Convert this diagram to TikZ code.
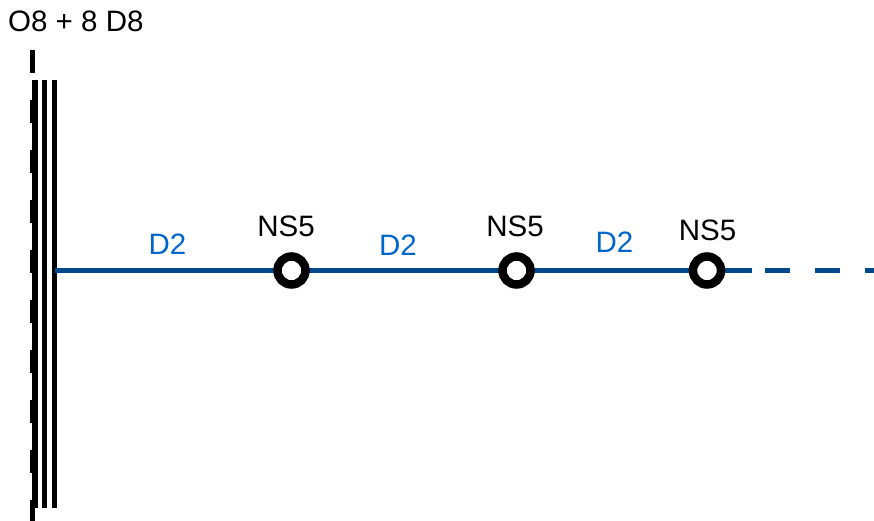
\documentclass[tikz,border=0pt]{standalone}
\usepackage{fontspec}
\setmainfont{Liberation Sans}
\definecolor{branebl}{RGB}{0,72,140}
\definecolor{labelbl}{RGB}{0,102,204}

\begin{document}
\begin{tikzpicture}[x=1pt,y=1pt]
        \tikzstyle{every node}=[inner sep=0pt, font=\fontsize{29.5}{34}\selectfont]
        \tikzstyle{stack}=[line width=5.5pt]
        \tikzstyle{brane}=[draw=branebl, line width=5pt]
        \tikzstyle{ns}=[circle, draw=black, fill=white, line width=8.5pt, minimum size=28pt]
        \tikzstyle{dlab}=[text=labelbl, anchor=base]
        \useasboundingbox (0,0) rectangle (874,521);
        % orientifold plane with the D8 stack
        \draw[stack, dash pattern=on 23pt off 27pt] (32.5,471) -- (32.5,0);
        \foreach \x in {35,44.5,54.5} \draw[stack] (\x,441) -- (\x,13);
        \node[anchor=base west] (o8) at (8,489) {O8 + 8 D8};
        % D2 branes ending on NS5
        \coordinate (stk) at (54.5,250.5);
        \coordinate (tail) at (752,250.5);
        \coordinate (far) at (874,250.5);
        \draw[brane] (stk) -- (707,250.5) -- (tail);
        \draw[brane, dash pattern=on 25pt off 25pt, dash phase=37pt] (tail) -- (far);
        \node[ns] (ns1) at (291.5,250.5) {};
        \node[ns] (ns2) at (516.5,250.5) {};
        \node[ns] (ns3) at (707,250.5) {};
        \node[anchor=base] (l1) at (286,284) {NS5};
        \node[anchor=base] (l2) at (515,284) {NS5};
        \node[anchor=base] (l3) at (707.5,280) {NS5};
        \node[dlab] (d1) at (167.5,266) {D2};
        \node[dlab] (d2) at (398,265) {D2};
        \node[dlab] (d3) at (614.5,268) {D2};
\end{tikzpicture}
\end{document}
